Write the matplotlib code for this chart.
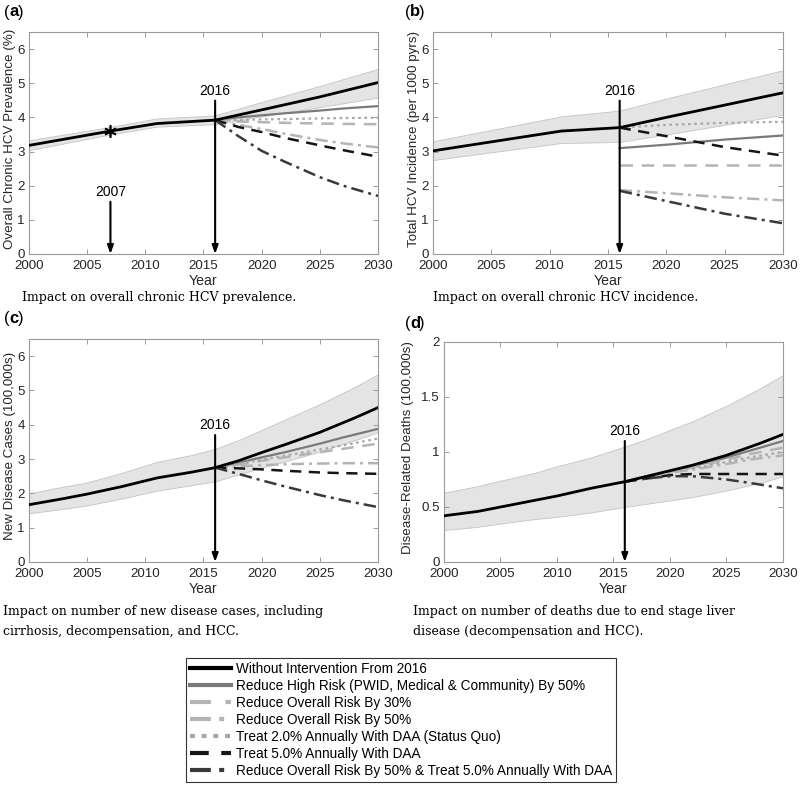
import matplotlib
matplotlib.use("Agg")
import matplotlib.pyplot as plt
from matplotlib.lines import Line2D

plt.rcParams['font.family'] = ['Liberation Sans', 'DejaVu Sans']

# ---------------- data ----------------
# Panel (a): chronic HCV prevalence (%)
a_base_years = [2000, 2007, 2011, 2016, 2020, 2025, 2030]
a_base = [3.18, 3.60, 3.82, 3.92, 4.22, 4.60, 5.02]
a_band_lo = [3.04, 3.50, 3.73, 3.80, 4.03, 4.30, 4.58]
a_band_hi = [3.33, 3.72, 3.97, 4.06, 4.45, 4.92, 5.42]
a_scen_years = [2016, 2018, 2020, 2022, 2025, 2027, 2030]
a_high_risk = [3.92, 4.00, 4.06, 4.12, 4.20, 4.26, 4.33]
a_risk30 = [3.92, 3.88, 3.86, 3.84, 3.82, 3.81, 3.80]
a_risk50 = [3.92, 3.78, 3.66, 3.52, 3.34, 3.24, 3.12]
a_treat2 = [3.92, 3.93, 3.94, 3.95, 3.97, 3.98, 3.99]
a_treat5 = [3.92, 3.72, 3.57, 3.40, 3.18, 3.04, 2.85]
a_combo = [3.92, 3.45, 3.02, 2.70, 2.25, 2.00, 1.70]
a_marker_year, a_marker_val = 2007, 3.60

# Panel (b): total HCV incidence (per 1000 pyrs)
b_base_years = [2000, 2011, 2016, 2020, 2025, 2030]
b_base = [3.02, 3.60, 3.70, 4.00, 4.36, 4.72]
b_band_lo = [2.75, 3.25, 3.28, 3.50, 3.78, 4.08]
b_band_hi = [3.30, 4.03, 4.20, 4.55, 4.97, 5.38]
b_scen_years = [2016, 2020, 2025, 2030]
b_high_risk = [3.10, 3.20, 3.35, 3.47]
b_risk30 = [2.60, 2.60, 2.60, 2.60]
b_risk50 = [1.87, 1.78, 1.66, 1.57]
b_treat2 = [3.70, 3.78, 3.84, 3.87]
b_treat5 = [3.70, 3.45, 3.13, 2.88]
b_combo = [1.85, 1.55, 1.18, 0.90]

# Panel (c): new disease cases (100,000s)
c_base_years = [2000, 2003, 2005, 2008, 2011, 2014, 2016, 2018, 2020, 2022, 2025, 2028, 2030]
c_base = [1.67, 1.85, 1.98, 2.20, 2.45, 2.62, 2.75, 2.95, 3.19, 3.42, 3.78, 4.20, 4.50]
c_band_lo = [1.42, 1.55, 1.65, 1.85, 2.08, 2.24, 2.35, 2.55, 2.75, 2.93, 3.22, 3.55, 3.78]
c_band_hi = [2.00, 2.20, 2.32, 2.60, 2.92, 3.12, 3.30, 3.55, 3.85, 4.15, 4.60, 5.10, 5.47]
c_scen_years = [2016, 2018, 2020, 2022, 2025, 2027, 2030]
c_high_risk = [2.75, 2.89, 3.05, 3.20, 3.45, 3.63, 3.88]
c_risk30 = [2.75, 2.84, 2.95, 3.05, 3.20, 3.30, 3.45]
c_risk50 = [2.75, 2.79, 2.82, 2.85, 2.87, 2.88, 2.88]
c_treat2 = [2.75, 2.86, 2.98, 3.10, 3.28, 3.40, 3.60]
c_treat5 = [2.75, 2.73, 2.70, 2.66, 2.61, 2.59, 2.57]
c_combo = [2.75, 2.57, 2.38, 2.20, 1.95, 1.80, 1.60]

# Panel (d): disease-related deaths (100,000s)
d_base_years = [2000, 2003, 2005, 2008, 2010, 2013, 2016, 2018, 2020, 2022, 2025, 2028, 2030]
d_base = [0.42, 0.46, 0.50, 0.56, 0.60, 0.67, 0.73, 0.78, 0.83, 0.88, 0.97, 1.08, 1.16]
d_band_lo = [0.29, 0.32, 0.35, 0.39, 0.41, 0.45, 0.50, 0.53, 0.56, 0.59, 0.65, 0.72, 0.78]
d_band_hi = [0.63, 0.69, 0.74, 0.81, 0.87, 0.95, 1.05, 1.12, 1.20, 1.28, 1.42, 1.58, 1.70]
d_scen_years = [2016, 2018, 2020, 2022, 2025, 2027, 2030]
d_high_risk = [0.73, 0.78, 0.83, 0.87, 0.95, 1.01, 1.10]
d_risk30 = [0.73, 0.78, 0.82, 0.86, 0.93, 0.98, 1.04]
d_risk50 = [0.73, 0.77, 0.81, 0.84, 0.89, 0.93, 0.97]
d_treat2 = [0.73, 0.78, 0.82, 0.85, 0.91, 0.95, 1.00]
d_treat5 = [0.73, 0.76, 0.79, 0.80, 0.80, 0.80, 0.80]
d_combo = [0.73, 0.76, 0.78, 0.78, 0.75, 0.72, 0.67]

legend_labels = [
    "Without Intervention From 2016",
    "Reduce High Risk (PWID, Medical & Community) By 50%",
    "Reduce Overall Risk By 30%",
    "Reduce Overall Risk By 50%",
    "Treat 2.0% Annually With DAA (Status Quo)",
    "Treat 5.0% Annually With DAA",
    "Reduce Overall Risk By 50% & Treat 5.0% Annually With DAA",
]

# ---------------- styles ----------------
ST_BASE = dict(color='black', lw=2.0, ls='-')
ST_HIGH = dict(color='#7a7a7a', lw=1.6, ls='-')
ST_R30 = dict(color='#b4b4b4', lw=1.8, ls=(0, (5, 3.5)))
ST_R50 = dict(color='#b4b4b4', lw=1.8, ls=(0, (5, 2, 1.2, 2)))
ST_T2 = dict(color='#a8a8a8', lw=1.6, ls=(0, (1.2, 1.6)))
ST_T5 = dict(color='#151515', lw=1.8, ls=(0, (4.5, 3)))
ST_COMBO = dict(color='#3a3a3a', lw=1.8, ls=(0, (5, 2, 1.2, 2)))

W, H = 800, 787
fig = plt.figure(figsize=(W / 100, H / 100), dpi=100)


def ax_at(l, t, r, b):
    return fig.add_axes([l / W, 1 - b / H, (r - l) / W, (b - t) / H])


def style_axes(ax, ylim, yticks, ylabel, label_x):
    ax.set_xlim(2000, 2030)
    ax.set_ylim(*ylim)
    ax.set_xticks([2000, 2005, 2010, 2015, 2020, 2025, 2030])
    ax.set_yticks(yticks)
    for s in ax.spines.values():
        s.set_color('#9a9a9a')
        s.set_linewidth(0.8)
    ax.tick_params(direction='in', length=3.5, width=0.7, top=True, right=True,
                   color='#9a9a9a', labelcolor='#262626', labelsize=9.6)
    ax.tick_params(axis='x', pad=4)
    ax.tick_params(axis='y', pad=3)
    ax.set_xlabel('Year', fontsize=10.2, color='#262626', labelpad=1.5)
    ax.set_ylabel(ylabel, fontsize=9.6, color='#262626')
    ax.yaxis.set_label_coords(label_x, 0.52)


def draw(ax, by, base, lo, hi, sy, scen):
    ax.fill_between(by, lo, hi, color='#e4e4e4', edgecolor='#c4c4c4', lw=0.6, zorder=1)
    ax.plot(by, base, zorder=5, **ST_BASE)
    for vals, st in zip(scen, [ST_HIGH, ST_R30, ST_R50, ST_T2, ST_T5, ST_COMBO]):
        ax.plot(sy, vals, zorder=4, **st)


def arrow(ax, x, ytop, label):
    ax.annotate('', xy=(x, 0), xytext=(x, ytop),
                arrowprops=dict(arrowstyle='-|>,head_length=0.5,head_width=0.18',
                                color='black', lw=1.5, shrinkA=0, shrinkB=0), zorder=6)
    ax.text(x, ytop + (ax.get_ylim()[1] * 0.012), label, ha='center', va='bottom',
            fontsize=10, color='black')


# (a)
axa = ax_at(29, 32, 378, 254)
style_axes(axa, (0, 6.5), [0, 1, 2, 3, 4, 5, 6], 'Overall Chronic HCV Prevalence (%)', -0.036)
draw(axa, a_base_years, a_base, a_band_lo, a_band_hi, a_scen_years,
     [a_high_risk, a_risk30, a_risk50, a_treat2, a_treat5, a_combo])
axa.plot([a_marker_year], [a_marker_val], marker=(6, 2, 0), color='black', ms=9, mew=1.2, zorder=7)
arrow(axa, 2007, 1.53, '2007')
arrow(axa, 2016, 4.49, '2016')

# (b)
axb = ax_at(433, 32, 783, 254)
style_axes(axb, (0, 6.5), [0, 1, 2, 3, 4, 5, 6], 'Total HCV Incidence (per 1000 pyrs)', -0.037)
draw(axb, b_base_years, b_base, b_band_lo, b_band_hi, b_scen_years,
     [b_high_risk, b_risk30, b_risk50, b_treat2, b_treat5, b_combo])
arrow(axb, 2016, 4.49, '2016')

# (c)
axc = ax_at(29, 339, 378, 562)
style_axes(axc, (0, 6.5), [0, 1, 2, 3, 4, 5, 6], 'New Disease Cases (100,000s)', -0.038)
draw(axc, c_base_years, c_base, c_band_lo, c_band_hi, c_scen_years,
     [c_high_risk, c_risk30, c_risk50, c_treat2, c_treat5, c_combo])
arrow(axc, 2016, 3.70, '2016')

# (d)
axd = ax_at(444, 342, 783, 562)
style_axes(axd, (0, 2), [0, 0.5, 1, 1.5, 2], 'Disease-Related Deaths (100,000s)', -0.088)
axd.set_yticklabels(['0', '0.5', '1', '1.5', '2'])
draw(axd, d_base_years, d_base, d_band_lo, d_band_hi, d_scen_years,
     [d_high_risk, d_risk30, d_risk50, d_treat2, d_treat5, d_combo])
arrow(axd, 2016, 1.10, '2016')

# panel letters: "(" normal, letter bold, ")" normal
for x, y, s in [(4, 12, 'a'), (405, 12, 'b'), (4, 318, 'c'), (405, 323, 'd')]:
    fig.text(x / W, 1 - y / H, '(', fontsize=12, va='center', ha='left')
    fig.text((x + 5) / W, 1 - y / H, s, fontsize=12, fontweight='bold', va='center', ha='left')
    fig.text((x + 14) / W, 1 - y / H, ')', fontsize=12, va='center', ha='left')

# captions
cap_kw = dict(fontsize=9.0, family='DejaVu Serif', va='center', ha='left', color='black')
fig.text(22 / W, 1 - 298 / H, 'Impact on overall chronic HCV prevalence.', **cap_kw)
fig.text(433 / W, 1 - 298 / H, 'Impact on overall chronic HCV incidence.', **cap_kw)
fig.text(3 / W, 1 - 612 / H, 'Impact on number of new disease cases, including', **cap_kw)
fig.text(3 / W, 1 - 631 / H, 'cirrhosis, decompensation, and HCC.', **cap_kw)
fig.text(413 / W, 1 - 612 / H, 'Impact on number of deaths due to end stage liver', **cap_kw)
fig.text(413 / W, 1 - 631 / H, 'disease (decompensation and HCC).', **cap_kw)

# legend
handles = []
for st in [ST_BASE, ST_HIGH, ST_R30, ST_R50, ST_T2, ST_T5, ST_COMBO]:
    kw = dict(st)
    kw['lw'] = 3.0
    handles.append(Line2D([0], [0], **kw))
leg = fig.legend(handles, legend_labels, loc='center', bbox_to_anchor=(401 / W, 1 - 720 / H),
                 fontsize=9.8, frameon=True, fancybox=False, edgecolor='black',
                 handlelength=3.0, handletextpad=0.4, labelspacing=0.22,
                 borderpad=0.3, borderaxespad=0)
leg.get_frame().set_linewidth(0.8)

fig.savefig('out.png', dpi=100)
